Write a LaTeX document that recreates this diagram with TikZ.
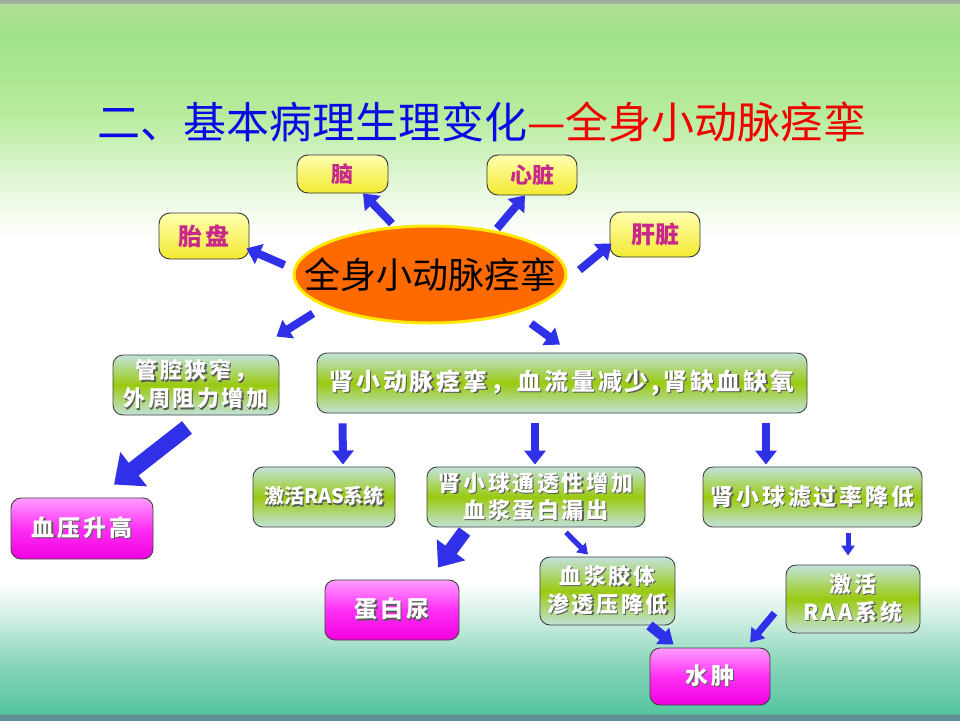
\documentclass[tikz,border=0pt]{standalone}
\usepackage{fontspec}
\setmainfont{Noto Sans CJK SC}
\newfontfamily\spc{Noto Sans CJK SC}[LetterSpace=12]
\usetikzlibrary{arrows.meta,calc,shapes.geometric}
\definecolor{ttlblue}{HTML}{0A0AE6}
\definecolor{ttlred}{HTML}{F00000}
\definecolor{arrblue}{HTML}{3030E8}
\definecolor{ylwtop}{HTML}{FFFFB0}
\definecolor{ylwbot}{HTML}{F2EA30}
\definecolor{orgtxt}{HTML}{C8288C}
\definecolor{grnend}{HTML}{C2E2DA}
\definecolor{grnmid}{HTML}{9ACA10}
\definecolor{mgtop}{HTML}{FF9CFF}
\definecolor{mgmid}{HTML}{FF30F4}
\definecolor{mgbot}{HTML}{F000E0}
\definecolor{ellfill}{HTML}{FF6A00}
\definecolor{ellline}{HTML}{FFE800}
\definecolor{bgstrip}{HTML}{5E8E94}
\pgfdeclareverticalshading{bgv}{100bp}{%
  color(0bp)=(bgstrip);
  color(25.4bp)=(bgstrip);
  color(25.43bp)=({rgb,255:red,85;green,196;blue,160});
  color(29bp)=({rgb,255:red,138;green,214;blue,186});
  color(32bp)=({rgb,255:red,206;green,238;blue,226});
  color(34.5bp)=(white);
  color(58.5bp)=(white);
  color(62.5bp)=({rgb,255:red,226;green,246;blue,214});
  color(67bp)=({rgb,255:red,184;green,236;blue,158});
  color(72.5bp)=({rgb,255:red,160;green,226;blue,136});
  color(74.75bp)=({rgb,255:red,176;green,222;blue,150});
  color(74.8bp)=({rgb,255:red,160;green,172;blue,160});
  color(100bp)=({rgb,255:red,160;green,172;blue,160})}
\newcommand\shd[1]{\makebox[0pt][l]{\kern1.3pt\raisebox{-1.3pt}{\textcolor{black!65}{#1}}}#1}
\begin{document}
\begin{tikzpicture}[x=1pt,y=-1pt,
  ybox/.style={draw=black!80, line width=0.9pt, rounded corners=11pt, top color=ylwtop, bottom color=ylwbot,
    text=orgtxt, font=\bfseries\fontsize{22}{24}\selectfont, inner sep=0pt},
  gbox/.style={draw=black!75, line width=0.9pt, rounded corners=10pt, top color=grnend, bottom color=grnend, middle color=grnmid,
    text=white, font=\spc\bfseries\fontsize{22}{30}\selectfont, align=center, inner sep=0pt},
  mbox/.style={draw=black!75, line width=0.9pt, rounded corners=10pt, top color=mgtop, bottom color=mgbot, middle color=mgmid,
    text=white, font=\spc\bfseries\fontsize{23}{28}\selectfont, align=center, inner sep=0pt},
  barrow/.style={draw=arrblue, line width=8pt, -{Triangle[length=14pt,width=21pt]}},
  bigarrow/.style={draw=arrblue, line width=16pt, -{Triangle[length=25pt,width=42pt]}},
  thinarrow/.style={draw=arrblue, line width=5pt, -{Triangle[length=10pt,width=13pt]}},
]
\useasboundingbox (0,0) rectangle (960,720);
% background
\shade[shading=bgv] (0,0) rectangle (960,720);
% title
\node[font=\fontsize{43}{46}\selectfont, inner sep=0pt] (title) at (482,122)
  {\textcolor{ttlblue}{二、基本病理生理变化}\textcolor{ttlred}{—全身小动脉痉挛}};
% central ellipse
\node[ellipse, fill=ellfill, draw=ellline, line width=3pt, minimum width=272pt, minimum height=97pt,
  font=\fontsize{36}{40}\selectfont, inner xsep=-40pt, inner ysep=-10pt] (ell) at (430,274.5) {全身小动脉痉挛};
% organ boxes
\node[ybox, minimum width=91pt, minimum height=38pt] (nao) at (342.5,174) {脑};
\node[ybox, minimum width=90pt, minimum height=40pt] (xin) at (532,175) {心脏};
\node[ybox, minimum width=90pt, minimum height=46pt, font=\bfseries\fontsize{24}{26}\selectfont] (tai) at (204,236) {胎\,盘};
\node[ybox, minimum width=90pt, minimum height=45pt, font=\bfseries\fontsize{24}{26}\selectfont] (gan) at (655,234.5) {肝脏};
% green boxes
\node[gbox, minimum width=166pt, minimum height=60pt] (guan) at (196,385) {\shd{管腔狭窄，}\\[-2pt]\shd{外周阻力增加}};
\node[gbox, minimum width=490pt, minimum height=60pt, font=\spc\bfseries\fontsize{24}{30}\selectfont] (shen) at (562,383) {\shd{肾小动脉痉挛，血流量减少,肾缺血缺氧}};
\node[gbox, minimum width=142pt, minimum height=60pt, font=\bfseries\fontsize{20}{26}\selectfont] (ras) at (324,497) {\shd{激活RAS系统}};
\node[gbox, minimum width=218pt, minimum height=60pt] (tong) at (536,497) {\shd{肾小球通透性增加}\\[-3pt]\shd{血浆蛋白漏出}};
\node[gbox, minimum width=219pt, minimum height=60pt, font=\spc\bfseries\fontsize{23}{30}\selectfont] (lv) at (812.5,497) {\shd{肾小球滤过率降低}};
\node[gbox, minimum width=135pt, minimum height=68pt] (jiao) at (607.5,591) {\shd{血浆胶体}\\[-2pt]\shd{渗透压降低}};
\node[gbox, minimum width=134pt, minimum height=68pt] (raa) at (853,599) {\shd{激活}\\[-2pt]\shd{RAA系统}};
% magenta boxes
\node[mbox, minimum width=142pt, minimum height=61pt] (xueya) at (82,528.5) {\shd{血压升高}};
\node[mbox, minimum width=134pt, minimum height=60pt] (danbai) at (392,610) {\shd{蛋白尿}};
\node[mbox, minimum width=120pt, minimum height=57pt] (shui) at (710,676.5) {\shd{水肿}};
% arrows from ellipse
\draw[barrow] ($(ell.west)+(-8,-9.5)$) -- ($(tai.south east)+(-3,-11)$);
\draw[barrow] ($(ell.north)+(-38,-1)$) -- ($(nao.south)+(20.5,0)$);
\draw[barrow] ($(ell.north)+(67,4)$) -- ($(xin.south)+(-7,0)$);
\draw[barrow] ($(ell.east)+(12,-4.5)$) -- ($(gan.south west)+(2,-14)$);
\draw[barrow] ($(ell.south)+(-117,-11)$) -- ($(guan.north east)+(-3,-18)$);
\draw[barrow] ($(ell.south)+(101,-1)$) -- ($(shen.north)+(-2,-8)$);
% lower arrows
\draw[bigarrow] ($(guan.south)+(-9,12)$) -- ($(xueya.north)+(32,-13)$);
\draw[barrow] ($(shen.south west)+(26,10)$) -- ($(ras.north)+(19,-2)$);
\draw[barrow] ($(shen.south)+(-27,10)$) -- ($(tong.north)+(-1,-2)$);
\draw[barrow] ($(shen.south)+(204,10)$) -- ($(lv.north)+(-46.5,-2)$);
\draw[draw=arrblue, line width=14pt, -{Triangle[length=22pt,width=34pt]}] ($(tong.south west)+(38,4)$) -- ($(danbai.north)+(46,-12)$);
\draw[thinarrow] ($(tong.south)+(30,5)$) -- ($(jiao.north)+(-19.5,-2)$);
\draw[thinarrow] ($(lv.south)+(35.5,6)$) -- ($(raa.north)+(-5,-9)$);
\draw[draw=arrblue, line width=10pt, -{Triangle[length=14pt,width=20pt]}] ($(jiao.south east)+(-26,0)$) -- ($(shui.north west)+(24,-3)$);
\draw[draw=arrblue, line width=7pt, -{Triangle[length=13pt,width=17pt]}] ($(raa.west)+(-11,14)$) -- ($(shui.north)+(40,-5)$);
\end{tikzpicture}
\end{document}
